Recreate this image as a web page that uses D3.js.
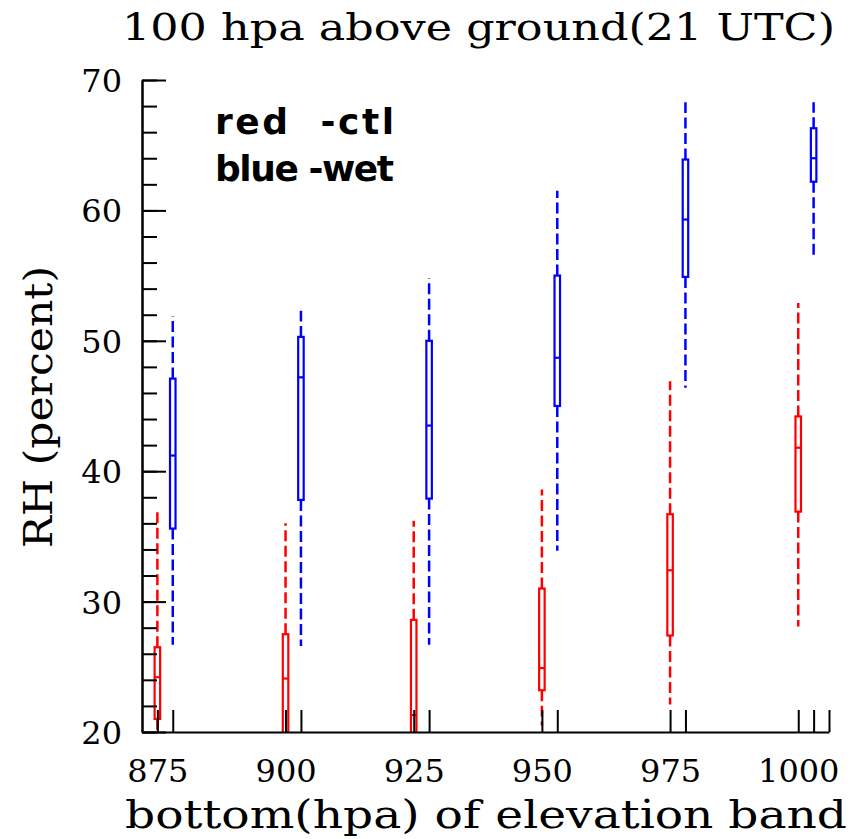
<!DOCTYPE html>
<html>
<head>
<meta charset="utf-8">
<script src="https://cdn.jsdelivr.net/npm/d3@7"></script>
<style>
  html, body { margin: 0; padding: 0; background: #fff; }
  svg { display: block; }
</style>
</head>
<body>
<svg id="chart" width="866" height="839"></svg>
<script>
// elevation bands (bottom pressure, hpa)
const levels = [875, 900, 925, 950, 975, 1000]
const wetOffset = 3
const xDomain = [872, 1006]
const yTicks = [20, 30, 40, 50, 60, 70]
const yMinorTicks = d3.range(20, 71, 2)

// red - ctl
const ctlHigh = [37.0, 36.0, 36.2, 38.6, 46.9, 52.9]
const ctlQ3 = [26.5, 27.5, 28.6, 31.0, 36.7, 44.2]
const ctlMedian = [24.2, 24.1, 21.3, 24.9, 32.4, 41.8]
const ctlQ1 = [21.0, 18.0, 18.0, 23.2, 27.4, 36.9]
const ctlLow = [20.0, 15.0, 15.0, 20.5, 22.1, 28.1]

// blue - wet
const wetHigh = [51.9, 52.3, 54.8, 61.5, 68.3, 68.3]
const wetQ3 = [47.1, 50.3, 50.0, 55.0, 63.9, 66.3]
const wetMedian = [41.2, 47.2, 43.5, 48.7, 59.3, 64.0]
const wetQ1 = [35.6, 37.8, 37.9, 45.0, 54.9, 62.2]
const wetLow = [26.7, 26.6, 26.7, 33.9, 46.4, 56.4]

const margin = { top: 80, right: 37, bottom: 107, left: 142 }
const width = 866
const height = 839
const serif = "DejaVu Serif, serif"

const x = d3.scaleLinear()
    .domain(xDomain)
    .range([margin.left, width - margin.right])

const y = d3.scaleLinear()
    .domain([20, 70])
    .range([height - margin.bottom, margin.top])

const svg = d3.select("#chart")

// clip so boxes running below 20 stop at the axis
svg.append("clipPath")
    .attr("id", "plot")
    .append("rect")
    .attr("x", x(xDomain[0]))
    .attr("y", y(70) - 5)
    .attr("width", x(xDomain[1]) - x(xDomain[0]))
    .attr("height", y(20) - y(70) + 5)

const series = [
    { color: "#ff0000", off: 0, high: ctlHigh, q3: ctlQ3, med: ctlMedian, q1: ctlQ1, low: ctlLow },
    { color: "#0000ff", off: wetOffset, high: wetHigh, q3: wetQ3, med: wetMedian, q1: wetQ1, low: wetLow }
]

const boxW = 5.5
const plot = svg.append("g").attr("clip-path", "url(#plot)")

series.forEach(s => {
    const g = plot.append("g").attr("stroke", s.color).attr("fill", "none")
    levels.forEach((lev, i) => {
        const cx = x(lev + s.off)
        // whiskers
        g.append("line")
            .attr("x1", cx).attr("x2", cx)
            .attr("y1", y(s.q3[i])).attr("y2", y(s.high[i]))
            .attr("stroke-width", 2.5)
            .attr("stroke-dasharray", "11,4.5")
        g.append("line")
            .attr("x1", cx).attr("x2", cx)
            .attr("y1", y(s.q1[i])).attr("y2", y(s.low[i]))
            .attr("stroke-width", 2.5)
            .attr("stroke-dasharray", "11,4.5")
        // box
        g.append("rect")
            .attr("x", cx - boxW / 2)
            .attr("y", y(s.q3[i]))
            .attr("width", boxW)
            .attr("height", y(s.q1[i]) - y(s.q3[i]))
            .attr("fill", "#fff")
            .attr("stroke-width", 2.2)
        g.append("line")
            .attr("x1", cx - boxW / 2).attr("x2", cx + boxW / 2)
            .attr("y1", y(s.med[i])).attr("y2", y(s.med[i]))
            .attr("stroke-width", 2.2)
    })
})

// x axis: inward ticks at every box plus the axis end
const xTickValues = levels.flatMap(l => [l, l + wetOffset]).concat([xDomain[1]])

svg.append("g")
    .attr("class", "x-axis")
    .attr("transform", `translate(0,${y(20)})`)
    .call(d3.axisBottom(x).tickValues(xTickValues).tickSizeInner(-22).tickSizeOuter(0).tickFormat(""))

svg.append("g")
    .attr("class", "x-labels")
    .attr("transform", `translate(0,${y(20)})`)
    .call(d3.axisBottom(x).tickValues(levels).tickSize(0).tickPadding(27).tickFormat(d3.format("d")))
    .call(g => g.select(".domain").remove())

// y axis: major and minor inward ticks
svg.append("g")
    .attr("class", "y-minor")
    .attr("transform", `translate(${x(xDomain[0])},0)`)
    .call(d3.axisLeft(y).tickValues(yMinorTicks).tickSizeInner(-15).tickSizeOuter(0).tickFormat(""))

svg.append("g")
    .attr("class", "y-axis")
    .attr("transform", `translate(${x(xDomain[0])},0)`)
    .call(d3.axisLeft(y).tickValues(yTicks).tickSizeInner(-24).tickSizeOuter(0).tickPadding(20).tickFormat(d3.format("d")))

svg.selectAll(".x-axis path, .x-axis line, .y-axis path, .y-axis line, .y-minor path, .y-minor line")
    .attr("stroke", "#000")
    .attr("stroke-width", 2)

svg.selectAll(".x-labels text, .y-axis text")
    .attr("font-family", serif)
    .attr("font-size", 32)
    .attr("fill", "#000")

svg.selectAll(".y-axis text").attr("dy", "0.36em")

// titles
svg.append("text")
    .text("100 hpa above ground(21 UTC)")
    .attr("x", 122)
    .attr("y", 40)
    .attr("font-family", serif)
    .attr("font-size", 38)
    .attr("textLength", 713)
    .attr("lengthAdjust", "spacingAndGlyphs")

svg.append("text")
    .text("bottom(hpa) of elevation band")
    .attr("x", 125)
    .attr("y", 828)
    .attr("font-family", serif)
    .attr("font-size", 40)
    .attr("textLength", 722)
    .attr("lengthAdjust", "spacingAndGlyphs")

svg.append("text")
    .text("RH (percent)")
    .attr("transform", "translate(52,407) rotate(-90)")
    .attr("text-anchor", "middle")
    .attr("font-family", serif)
    .attr("font-size", 40)
    .attr("textLength", 282)
    .attr("lengthAdjust", "spacingAndGlyphs")

// legend text
const legendLines = ["red  -ctl", "blue -wet"]
legendLines.forEach((t, i) => {
    svg.append("text")
        .text(t)
        .attr("x", 215)
        .attr("y", 134 + 47 * i)
        .attr("xml:space", "preserve")
        .attr("font-family", "Liberation Sans Narrow, DejaVu Sans, sans-serif")
        .attr("font-weight", "bold")
        .attr("font-size", 36)
        .attr("textLength", 179)
        .attr("lengthAdjust", "spacing")
})
</script>
</body>
</html>
